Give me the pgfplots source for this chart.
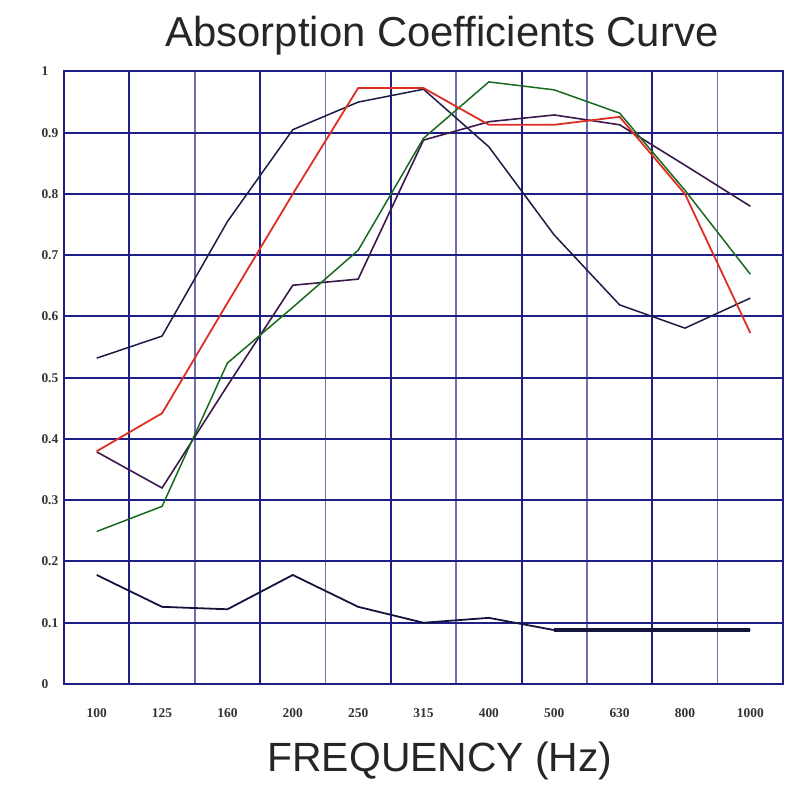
\documentclass[border=0pt]{standalone}
\usepackage{fontspec}
\setmainfont{Liberation Sans}
\newfontfamily\tickfont{Liberation Serif}
\usepackage{pgfplots}
\pgfplotsset{compat=1.18}
\definecolor{gridnavy}{RGB}{30,30,135}
\definecolor{gridlight}{RGB}{110,110,175}
\definecolor{seriesA}{RGB}{28,28,70}
\definecolor{seriesB}{RGB}{222,45,35}
\definecolor{seriesC}{RGB}{25,105,30}
\definecolor{seriesD}{RGB}{60,25,75}
\definecolor{seriesE}{RGB}{20,20,60}
\begin{document}
\begin{tikzpicture}
\path[use as bounding box] (0,0) rectangle (793bp,789bp);
\begin{axis}[
  at={(64bp,105bp)}, anchor=south west,
  scale only axis, width=719bp, height=612.5bp,
  xmin=-0.5, xmax=10.5, ymin=0, ymax=1,
  xtick={0.5,2.5,4.5,6.5,8.5},
  xticklabels={},
  minor xtick={1.5,3.5,5.5,7.5,9.5},
  extra x ticks={0,1,2,3,4,5,6,7,8,9,10},
  extra x tick labels={100,125,160,200,250,315,400,500,630,800,1000},
  extra x tick style={xmajorgrids=false},
  ytick={0,0.1,0.2,0.3,0.4,0.5,0.6,0.7,0.8,0.9,1},
  yticklabels={0,0.1,0.2,0.3,0.4,0.5,0.6,0.7,0.8,0.9,1},
  /pgf/number format/assume math mode=true,
  major tick length=0pt, minor tick length=0pt,
  xmajorgrids=true, ymajorgrids=true, xminorgrids=true,
  major grid style={gridnavy, line width=2bp},
  minor grid style={gridlight, line width=1.6bp},
  axis line style={gridnavy, line width=2bp},
  ticklabel style={font=\tickfont\bfseries\fontsize{13.5}{13.5}\selectfont, text=black!80},
  xticklabel style={anchor=center, yshift=-29bp},
  yticklabel style={anchor=west, xshift=-26bp},
  clip=false,
]
% Series A (navy, peaks at 315)
\addplot[seriesA, line width=1.5bp] coordinates {
 (0,0.532) (1,0.568) (2,0.755) (3,0.905) (4,0.950) (5,0.971)
 (6,0.877) (7,0.733) (8,0.619) (9,0.581) (10,0.630)};
% Series D (dark purple)
\addplot[seriesD, line width=1.6bp] coordinates {
 (0,0.379) (1,0.320) (2,0.487) (3,0.651) (4,0.661) (5,0.888)
 (6,0.918) (7,0.929) (8,0.913) (9,0.847) (10,0.780)};
% Series C (green)
\addplot[seriesC, line width=1.5bp] coordinates {
 (0,0.249) (1,0.290) (2,0.524) (3,0.615) (4,0.708) (5,0.891)
 (6,0.983) (7,0.970) (8,0.932) (9,0.806) (10,0.669)};
% Series B (red)
\addplot[seriesB, line width=1.8bp] coordinates {
 (0,0.380) (1,0.442) (2,0.622) (3,0.800) (4,0.973) (5,0.973)
 (6,0.913) (7,0.913) (8,0.926) (9,0.800) (10,0.573)};
% Series E (bottom)
\addplot[seriesE, line width=1.8bp] coordinates {
 (0,0.178) (1,0.126) (2,0.122) (3,0.178) (4,0.126) (5,0.100)
 (6,0.108) (7,0.088) (8,0.088) (9,0.088) (10,0.088)};
\addplot[seriesE, line width=3.5bp] coordinates {
 (7,0.088) (8,0.088) (9,0.088) (10,0.088)};
\end{axis}
\node[font=\fontsize{42}{42}\selectfont, text=black!85] at (442bp,753bp) {Absorption Coefficients Curve};
\node[font=\fontsize{41}{41}\selectfont, text=black!85] at (440bp,28bp) {FREQUENCY (Hz)};
\end{tikzpicture}
\end{document}
